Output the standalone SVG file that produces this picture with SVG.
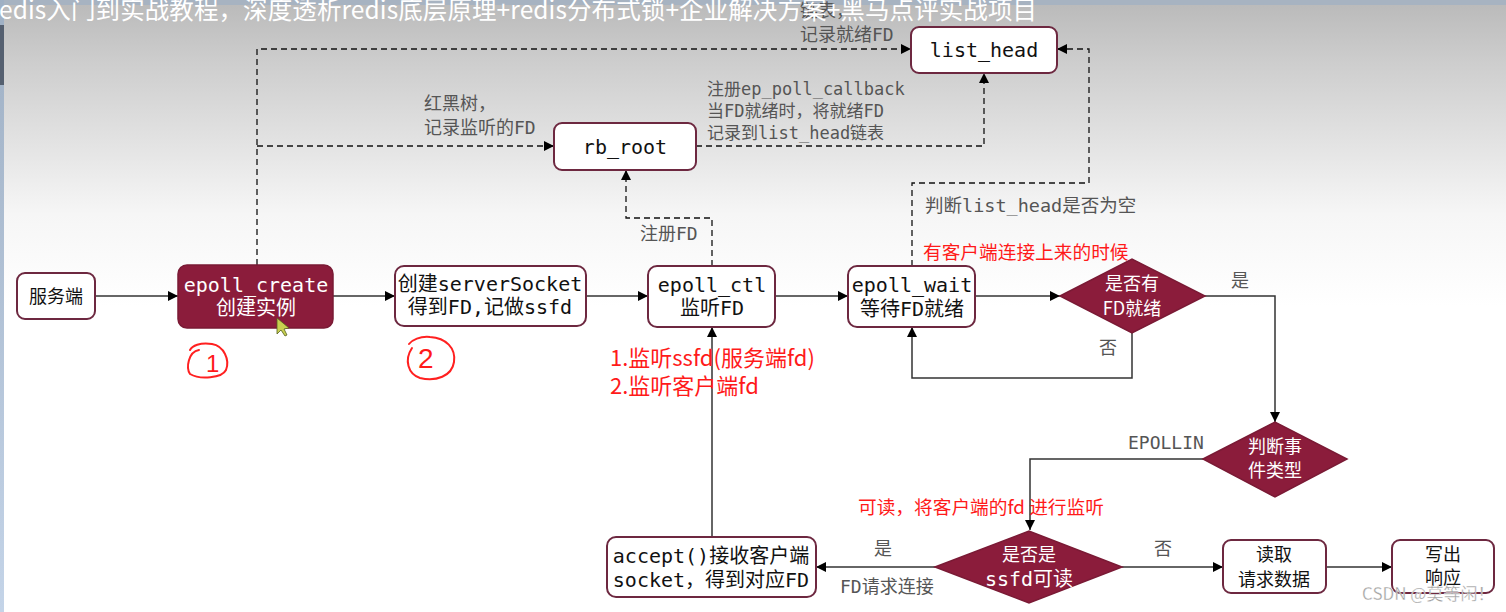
<svg xmlns="http://www.w3.org/2000/svg" width="1506" height="612" viewBox="0 0 1506 612">
<defs>
<linearGradient id="bg" x1="0" y1="0" x2="0" y2="1">
<stop offset="0" stop-color="#b9b9b9"/>
<stop offset="0.1" stop-color="#cdcdcd"/>
<stop offset="0.35" stop-color="#f6f6f6"/>
<stop offset="0.5" stop-color="#ffffff"/>
<stop offset="1" stop-color="#ffffff"/>
</linearGradient>
<linearGradient id="lb" x1="0" y1="0" x2="0" y2="1">
<stop offset="0" stop-color="#9fb0c4"/>
<stop offset="1" stop-color="#c4d4e8"/>
</linearGradient>
<marker id="ah" viewBox="0 0 10 10" refX="10" refY="5" markerWidth="10" markerHeight="10" markerUnits="userSpaceOnUse" orient="auto">
<path d="M0,0 L10,5 L0,10 z" fill="#000"/>
</marker>
<style>
.box{fill:#fff;stroke:#6d2840;stroke-width:2}
.dark{fill:#8b1c3b;stroke:#7a1a35;stroke-width:1.5}
.mono{font-family:"DejaVu Sans Mono","Noto Sans CJK SC",monospace;font-size:20px;fill:#111}
.sans{font-family:"Noto Sans CJK SC","Noto Sans",sans-serif;font-size:18px;fill:#111}
.wt{fill:#fff}
.mid{text-anchor:middle}
.lbl{font-family:"DejaVu Sans Mono","Noto Sans CJK SC",monospace;font-size:17px;fill:#555}
.red{font-family:"Noto Sans CJK SC","Noto Sans",sans-serif;fill:#ff1a1a}
.solid{fill:none;stroke:#333;stroke-width:1.5}
.dash{fill:none;stroke:#111;stroke-width:1.3;stroke-dasharray:6,4}
.hand{fill:none;stroke:#ff2020;stroke-width:2;stroke-linecap:round}
</style>
</defs>
<rect x="0" y="0" width="1506" height="612" fill="url(#bg)"/>
<rect x="0" y="0" width="1506" height="5" fill="#a7b3c1"/>
<rect x="0" y="0" width="4" height="612" fill="url(#lb)"/>
<rect x="0" y="25" width="4" height="60" fill="#556070"/>

<g id="connectors">
<path class="solid" d="M95,296 H178" marker-end="url(#ah)"/>
<path class="solid" d="M333,296 H395" marker-end="url(#ah)"/>
<path class="solid" d="M586,296 H648" marker-end="url(#ah)"/>
<path class="solid" d="M775,296 H848" marker-end="url(#ah)"/>
<path class="solid" d="M975,296 H1060" marker-end="url(#ah)"/>
<path class="solid" d="M1205,296 H1275 V422" marker-end="url(#ah)"/>
<path class="solid" d="M1132,333 V378 H912 V327" marker-end="url(#ah)"/>
<path class="solid" d="M1203,459 H1030 V530" marker-end="url(#ah)"/>
<path class="solid" d="M935,567 H816" marker-end="url(#ah)"/>
<path class="solid" d="M1122,567 H1223" marker-end="url(#ah)"/>
<path class="solid" d="M1326,567 H1392" marker-end="url(#ah)"/>
<path class="solid" d="M712,537 V327" marker-end="url(#ah)"/>
<path class="dash" d="M257,265 V49 H911" marker-end="url(#ah)"/>
<path class="dash" d="M257,146 H554" marker-end="url(#ah)"/>
<path class="dash" d="M696,146 H984 V73" marker-end="url(#ah)"/>
<path class="dash" d="M712,266 V218 H626 V170" marker-end="url(#ah)"/>
<path class="dash" d="M912,266 V183 H1089 V49 H1057" marker-end="url(#ah)"/>
</g>

<g id="labels">
<text class="lbl" x="800" y="17" style="font-size:18px">链表，</text>
<text class="lbl" x="800" y="41" style="font-size:18px">记录就绪FD</text>
<text class="lbl" x="424" y="110" style="font-size:18px">红黑树，</text>
<text class="lbl" x="424" y="134" style="font-size:18px">记录监听的FD</text>
<text class="lbl" x="707" y="95">注册ep_poll_callback</text>
<text class="lbl" x="707" y="117">当FD就绪时，将就绪FD</text>
<text class="lbl" x="707" y="139">记录到list_head链表</text>
<text class="lbl" x="640" y="240" style="font-size:18px">注册FD</text>
<text class="lbl" x="925" y="212" style="font-size:18.5px">判断list_head是否为空</text>
<text class="lbl" x="1231" y="287" style="font-size:18px">是</text>
<text class="lbl" x="1099" y="354" style="font-size:18px">否</text>
<text class="lbl" x="1128" y="449" style="font-size:18px">EPOLLIN</text>
<text class="lbl" x="874" y="555" style="font-size:18px">是</text>
<text class="lbl" x="1154" y="555" style="font-size:18px">否</text>
<text class="lbl" x="840" y="593" style="font-size:18px">FD请求连接</text>
<text class="red" x="923" y="259" style="font-size:18.7px">有客户端连接上来的时候</text>
<text class="red" x="610" y="366" style="font-size:22px">1.监听ssfd(服务端fd)</text>
<text class="red" x="610" y="394" style="font-size:22px">2.监听客户端fd</text>
<text class="red" x="858" y="514" style="font-size:18.7px">可读，将客户端的fd 进行监听</text>
</g>

<g id="n-server">
<rect class="box" x="17" y="273" width="78" height="46" rx="8"/>
<text class="sans mid" x="56" y="303">服务端</text>
</g>
<g id="n-create">
<rect class="dark" x="178" y="265" width="155" height="63" rx="9"/>
<text class="mono mid wt" x="256" y="292">epoll_create</text>
<text class="mono mid wt" x="256" y="315">创建实例</text>
</g>
<g id="n-socket">
<rect class="box" x="395" y="266" width="191" height="60" rx="9"/>
<text class="mono mid" x="490" y="291">创建serverSocket</text>
<text class="mono mid" x="490" y="314">得到FD,记做ssfd</text>
</g>
<g id="n-ctl">
<rect class="box" x="648" y="266" width="127" height="61" rx="9"/>
<text class="mono mid" x="712" y="292">epoll_ctl</text>
<text class="mono mid" x="712" y="315">监听FD</text>
</g>
<g id="n-wait">
<rect class="box" x="848" y="266" width="127" height="61" rx="9"/>
<text class="mono mid" x="912" y="292">epoll_wait</text>
<text class="mono mid" x="912" y="316">等待FD就绪</text>
</g>
<g id="n-rbroot">
<rect class="box" x="554" y="123" width="142" height="47" rx="8"/>
<text class="mono mid" x="625" y="154">rb_root</text>
</g>
<g id="n-listhead">
<rect class="box" x="911" y="27" width="146" height="46" rx="8"/>
<text class="mono mid" x="984" y="57">list_head</text>
</g>
<g id="n-ready">
<polygon class="dark" points="1060,296 1132,259 1205,296 1132,333"/>
<text class="sans mid wt" x="1132" y="290">是否有</text>
<text class="sans mid wt" x="1132" y="315">FD就绪</text>
</g>
<g id="n-type">
<polygon class="dark" points="1203,459 1275,422 1347,459 1275,497"/>
<text class="sans mid wt" x="1275" y="453">判断事</text>
<text class="sans mid wt" x="1275" y="477">件类型</text>
</g>
<g id="n-ssfd">
<polygon class="dark" points="935,567 1029,531 1122,567 1029,603"/>
<text class="sans mid wt" x="1029" y="561">是否是</text>
<text class="mono mid wt" x="1029" y="586">ssfd可读</text>
</g>
<g id="n-accept">
<rect class="box" x="607" y="537" width="209" height="60" rx="9"/>
<text class="mono mid" x="711" y="563">accept()接收客户端</text>
<text class="mono mid" x="711" y="587">socket，得到对应FD</text>
</g>
<g id="n-read">
<rect class="box" x="1223" y="540" width="103" height="53" rx="8"/>
<text class="sans mid" x="1274" y="561">读取</text>
<text class="sans mid" x="1274" y="586">请求数据</text>
</g>
<g id="n-write">
<rect class="box" x="1392" y="540" width="102" height="53" rx="8"/>
<text class="sans mid" x="1443" y="561">写出</text>
<text class="sans mid" x="1443" y="584">响应</text>
</g>

<g id="annotations">
<path class="hand" d="M199,350 C188,352 186,368 190,374 C200,380 222,378 226,370 C230,360 224,346 212,344 C200,342 192,346 190,350"/>
<text class="red" x="206" y="372" style="font-size:24px;font-family:'Liberation Sans',sans-serif">1</text>
<path class="hand" d="M412,348 C404,360 408,374 420,378 C436,382 452,376 454,362 C456,348 446,338 430,337 C420,336 412,340 409,344"/>
<text class="red" x="418" y="368" style="font-size:28px;font-family:'Liberation Sans',sans-serif">2</text>
<polygon points="277,318 277,334 281,330 285,336 287,335 284,329 289,328" fill="#c8d050" stroke="#556020" stroke-width="0.8"/>
</g>

<text x="-1" y="19" textLength="1038" lengthAdjust="spacing" style="font-family:'Noto Sans CJK SC','Noto Sans',sans-serif;font-size:24.5px;fill:#ffffff">edis入门到实战教程，深度透析redis底层原理+redis分布式锁+企业解决方案+黑马点评实战项目</text>
<text x="1362" y="600" style="font-family:'Noto Sans CJK SC','Liberation Sans',sans-serif;font-size:17px;fill:#a0a0a0;stroke:#ffffff;stroke-width:0.3">CSDN @莫等闲！</text>
</svg>
